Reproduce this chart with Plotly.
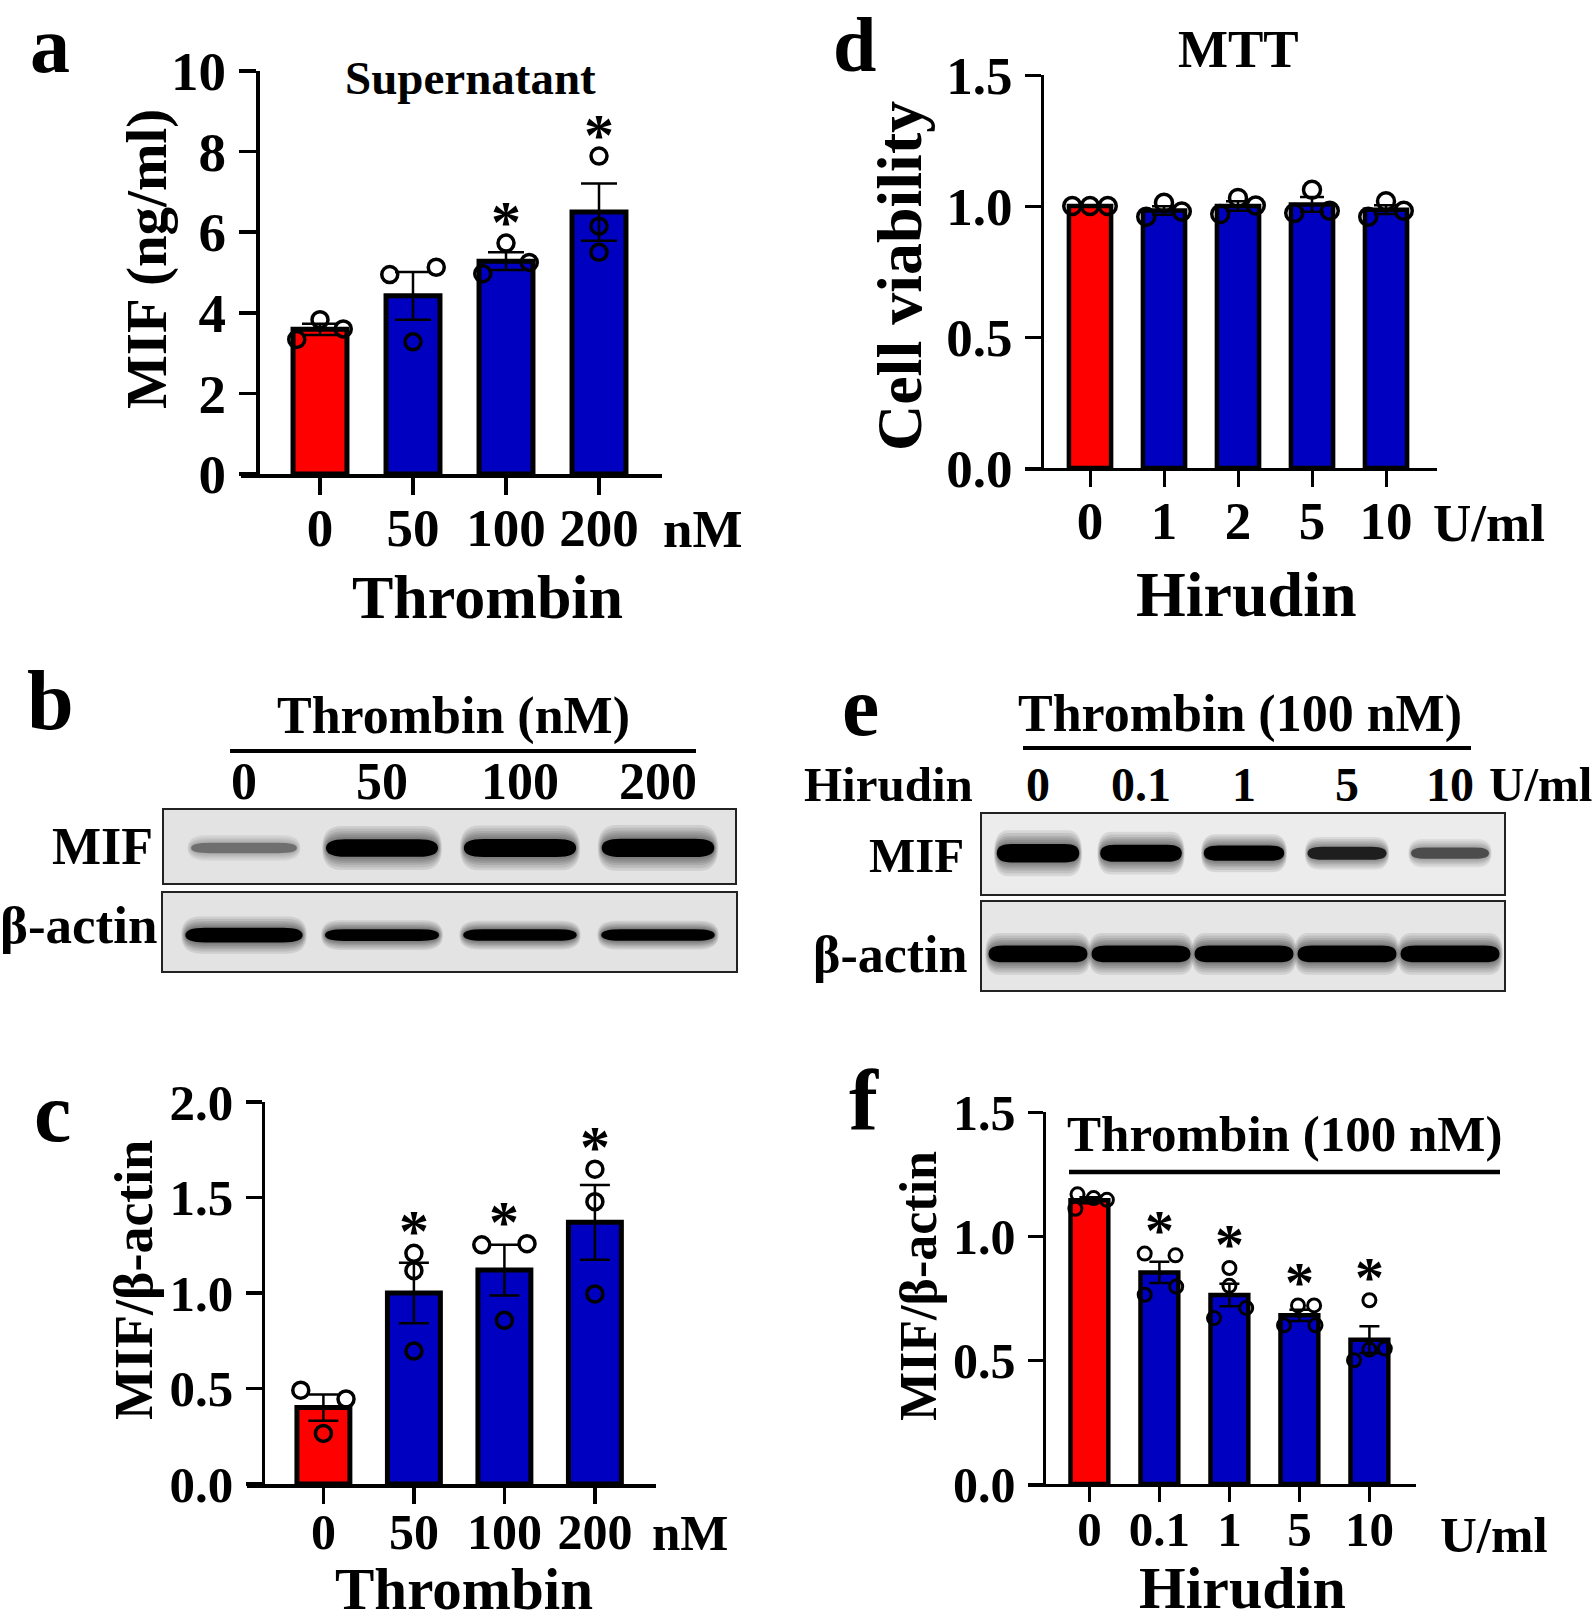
import plotly.graph_objects as go

W, H = 1593, 1622
FONT = "Liberation Serif, Times New Roman, serif"
RED = "#ff0000"
BLUE = "#0000c0"

# ---------------- data ----------------
# Panel a: MIF in supernatant (ng/ml) vs thrombin (nM)
a_cats = ["0", "50", "100", "200"]
a_means = [3.59, 4.42, 5.28, 6.50]
a_sem = [0.14, 0.59, 0.22, 0.71]
a_points = [[3.34, 3.83, 3.60], [4.95, 3.28, 5.13], [4.97, 5.73, 5.25], [7.89, 6.15, 5.50]]
a_sig = [False, False, True, True]

# Panel d: MTT cell viability vs hirudin (U/ml)
d_cats = ["0", "1", "2", "5", "10"]
d_means = [1.000, 0.983, 1.000, 1.006, 0.986]
d_sem = [0.002, 0.016, 0.018, 0.028, 0.017]
d_points = [[1.00, 1.00, 1.00], [0.959, 1.012, 0.979], [0.969, 1.031, 1.002],
            [0.973, 1.062, 0.982], [0.959, 1.018, 0.982]]
d_sig = [False, False, False, False, False]

# Panel c: MIF/beta-actin vs thrombin (nM)
c_cats = ["0", "50", "100", "200"]
c_means = [0.40, 1.00, 1.12, 1.37]
c_sem = [0.069, 0.158, 0.133, 0.196]
c_points = [[0.491, 0.265, 0.445], [1.208, 1.117, 0.696], [1.252, 0.857, 1.258], [1.648, 1.478, 0.995]]
c_sig = [False, True, True, True]

# Panel f: MIF/beta-actin vs hirudin (U/ml), thrombin 100 nM
f_cats = ["0", "0.1", "1", "5", "10"]
f_means = [1.144, 0.853, 0.762, 0.680, 0.582]
f_sem = [0.012, 0.043, 0.045, 0.023, 0.054]
f_points = [[1.168, 1.110, 1.153, 1.146], [0.929, 0.922, 0.763, 0.796], [0.871, 0.799, 0.669, 0.710],
            [0.720, 0.720, 0.640, 0.640], [0.741, 0.499, 0.542, 0.546]]
f_sig = [False, True, True, True, True]

# Western blots: relative band intensities per lane
b_lanes = ["0", "50", "100", "200"]
b_mif = [0.35, 0.90, 0.92, 0.95]
b_actin = [1.00, 0.72, 0.68, 0.68]
e_lanes = ["0", "0.1", "1", "5", "10"]
e_mif = [1.00, 0.90, 0.75, 0.58, 0.45]
e_actin = [1.00, 1.00, 1.00, 1.00, 1.00]

# ---------------- styles (horizontal scatter of dots) ----------------
a_jit = [[-0.25, 0, 0.25], [-0.25, 0, 0.25], [-0.25, 0, 0.25], [0, 0, 0]]
d_jit = [[-0.24, 0, 0.24]] * 5
c_jit = [[-0.25, 0, 0.25], [0, 0, 0], [-0.25, 0, 0.25], [0, 0, 0]]
f_jit = [[-0.17, -0.2, 0.06, 0.25], [-0.21, 0.23, -0.21, 0.24], [0, 0, -0.22, 0.24],
         [-0.02, 0.21, -0.22, 0.23], [0, -0.22, 0, 0.22]]


def px(x):
    return x / W


def py(y):
    return 1 - y / H


def bold(size):
    return dict(family=FONT, size=size, color="black", weight="bold")


fig = go.Figure()
annotations = []
shapes = []


def ax_names(k):
    s = "" if k == 1 else str(k)
    return "xaxis" + s, "yaxis" + s, "x" + s, "y" + s


def add_bar_panel(k, cats, means, sem, points, jitter, sig, g):
    xa, ya, xr, yr = ax_names(k)
    n = len(cats)
    xs = list(range(n))
    colors = [RED] + [BLUE] * (n - 1)
    fig.add_trace(go.Bar(
        x=xs, y=means, width=g["bw"],
        marker=dict(color=colors, line=dict(color="black", width=g["olw"])),
        error_y=dict(type="data", array=sem, visible=True, color="black",
                     thickness=g["ebt"], width=g["ebw"]),
        xaxis=xr, yaxis=yr, hoverinfo="skip", showlegend=False))
    dx, dy = [], []
    for i, (pts, jt) in enumerate(zip(points, jitter)):
        for v, j in zip(pts, jt):
            dx.append(i + j)
            dy.append(v)
    fig.add_trace(go.Scatter(
        x=dx, y=dy, mode="markers",
        marker=dict(symbol="circle-open", size=g["ms"], color="black",
                    line=dict(width=g["mlw"], color="black")),
        xaxis=xr, yaxis=yr, hoverinfo="skip", showlegend=False))
    step = g["step"]
    fig.update_layout(**{
        xa: dict(domain=[px(g["xl"]), px(g["xr"])],
                 range=[(g["xl"] - g["c0"]) / step, (g["xr"] - g["c0"]) / step],
                 anchor=yr, showline=True, linecolor="black", linewidth=g["alw"],
                 ticks="outside", ticklen=g["tl"], tickwidth=g["alw"], tickcolor="black",
                 tickvals=xs, ticktext=cats, tickfont=bold(g["fx"]),
                 ticklabelstandoff=g["xso"], automargin=False,
                 showgrid=False, zeroline=False, fixedrange=True),
        ya: dict(domain=[py(g["yb"]), py(g["yt"])], range=[0, g["ymax"]],
                 anchor="free", position=px(g["yx"]),
                 showline=True, linecolor="black", linewidth=g["alw"],
                 ticks="outside", ticklen=g["tl"], tickwidth=g["alw"], tickcolor="black",
                 tick0=0, dtick=g["dtick"], tickformat=g["fmt"], tickfont=bold(g["fy"]),
                 ticklabelstandoff=g["yso"], automargin=False,
                 showgrid=False, zeroline=False, fixedrange=True),
    })
    for i, s in enumerate(sig):
        if s:
            annotations.append(dict(x=i, y=max(points[i]), xref=xr, yref=yr, text="*",
                                    showarrow=False, yshift=g["sy"], font=bold(g["fs"]),
                                    xanchor="center", yanchor="middle"))


def pill(xc, yc, w, h, r):
    x0, x1 = xc - w / 2, xc + w / 2
    y0, y1 = yc - h / 2, yc + h / 2
    return (f"M {x0 + r},{y0} L {x1 - r},{y0} Q {x1},{y0} {x1},{yc} "
            f"Q {x1},{y1} {x1 - r},{y1} L {x0 + r},{y1} Q {x0},{y1} {x0},{yc} "
            f"Q {x0},{y0} {x0 + r},{y0} Z")


def add_blot(k, intens, box, c0, step, g):
    xa, ya, xr, yr = ax_names(k)
    x0b, y0b, x1b, y1b = box
    n = len(intens)
    fig.add_trace(go.Scatter(x=list(range(n)), y=[g["y"]] * n, mode="markers",
                             marker=dict(opacity=0, size=1), xaxis=xr, yaxis=yr,
                             hoverinfo="skip", showlegend=False))
    fig.update_layout(**{
        xa: dict(domain=[px(x0b), px(x1b)], range=[(x0b - c0) / step, (x1b - c0) / step],
                 anchor=yr, showline=True, mirror=True, linecolor="#222", linewidth=2,
                 showticklabels=False, ticks="", showgrid=False, zeroline=False,
                 fixedrange=True, automargin=False),
        ya: dict(domain=[py(y1b), py(y0b)], range=[0, 1], anchor=xr,
                 showline=True, mirror=True, linecolor="#222", linewidth=2,
                 showticklabels=False, ticks="", showgrid=False, zeroline=False,
                 fixedrange=True, automargin=False),
    })
    shapes.append(dict(type="rect", xref=xr + " domain", yref=yr + " domain", x0=0, x1=1, y0=0, y1=1,
                       fillcolor=g["bg"], line=dict(width=0), layer="below"))
    for i, v in enumerate(intens):
        gray = int(235 * (1 - min(1.0, 1.5 * v)))
        h = g["h"] * (0.3 + 0.7 * v)
        w = g["w"] * (0.9 + 0.1 * v)
        layers = [(1 + 0.07 * t, 1 + 1.5 * t, 0.09) for t in (1.0, 0.8, 0.6, 0.45, 0.3, 0.15)]
        layers.append((1.0, 1.0, 1.0))
        for sw, sh, op in layers:
            shapes.append(dict(type="path", xref=xr, yref=yr,
                               path=pill(i, g["y"], w * sw, h * sh, 0.14),
                               fillcolor=f"rgba({gray},{gray},{gray},{op})",
                               line=dict(width=0), layer="below"))


# ---------------- bar panels ----------------
add_bar_panel(1, a_cats, a_means, a_sem, a_points, a_jit, a_sig, dict(
    xl=241, xr=662, yx=257, c0=320, step=93, yt=71, yb=474, ymax=10, dtick=2, fmt="d",
    fx=53, fy=55, bw=0.58, olw=5, ebt=2.5, ebw=18, ms=16, mlw=3.5, alw=3.5, tl=17,
    xso=-12, yso=2, sy=21, fs=60))
add_bar_panel(2, d_cats, d_means, d_sem, d_points, d_jit, d_sig, dict(
    xl=1025, xr=1437, yx=1042, c0=1090, step=74, yt=75, yb=468, ymax=1.5, dtick=0.5, fmt=".1f",
    fx=53, fy=53, bw=0.57, olw=4.5, ebt=2.5, ebw=12, ms=17, mlw=3.5, alw=3, tl=16,
    xso=-12, yso=2, sy=21, fs=60))
add_bar_panel(7, c_cats, c_means, c_sem, c_points, c_jit, c_sig, dict(
    xl=247, xr=656, yx=262.5, c0=323.4, step=90.5, yt=1102, yb=1484, ymax=2, dtick=0.5, fmt=".1f",
    fx=50, fy=51, bw=0.585, olw=5, ebt=2.5, ebw=15, ms=16, mlw=3.5, alw=3.5, tl=16,
    xso=-15, yso=2, sy=22, fs=60))
add_bar_panel(8, f_cats, f_means, f_sem, f_points, f_jit, f_sig, dict(
    xl=1028, xr=1416, yx=1043.5, c0=1089.4, step=70, yt=1112, yb=1484, ymax=1.5, dtick=0.5, fmt=".1f",
    fx=49, fy=50, bw=0.54, olw=4.5, ebt=2.5, ebw=10, ms=13, mlw=3, alw=3, tl=15,
    xso=-15, yso=2, sy=23, fs=58))

# ---------------- blots ----------------
add_blot(3, b_mif, (164, 810, 735, 883), 244, 138, dict(y=0.48, h=0.26, w=0.82, bg="#e3e3e3"))
add_blot(4, b_actin, (163, 893, 736, 971), 244, 138, dict(y=0.46, h=0.19, w=0.85, bg="#e3e3e3"))
add_blot(5, e_mif, (982, 814, 1504, 894), 1038, 103, dict(y=0.51, h=0.23, w=0.80, bg="#ececec"))
add_blot(6, e_actin, (982, 902, 1504, 990), 1038, 103, dict(y=0.41, h=0.19, w=0.96, bg="#e6e6e6"))

# lane labels above blots
for i, t in enumerate(b_lanes):
    annotations.append(dict(x=i, y=py(782), xref="x3", yref="paper", text=t, showarrow=False,
                            font=bold(52), xanchor="center", yanchor="middle"))
for i, t in enumerate(e_lanes):
    annotations.append(dict(x=i, y=py(784), xref="x5", yref="paper", text=t, showarrow=False,
                            font=bold(48), xanchor="center", yanchor="middle"))


# ---------------- free text ----------------
def txt(x, y, s, size, xanchor="center", angle=0):
    annotations.append(dict(x=px(x), y=py(y), xref="paper", yref="paper", text=s, showarrow=False,
                            font=bold(size), xanchor=xanchor, yanchor="middle", textangle=angle))


txt(50, 45, "a", 80)
txt(470, 78, "Supernatant", 47)
txt(147, 259, "MIF (ng/ml)", 57, angle=-90)
txt(661, 529, "nM", 53, xanchor="left")
txt(487, 597, "Thrombin", 62)

txt(854, 44, "d", 78)
txt(1238, 49, "MTT", 53)
txt(900, 276, "Cell viability", 64, angle=-90)
txt(1431, 523, "U/ml", 53, xanchor="left")
txt(1246, 594, "Hirudin", 64)

txt(50, 700, "b", 84)
txt(453, 716, "Thrombin (nM)", 52)
txt(155, 846, "MIF", 52, xanchor="right")
txt(159, 925, "β-actin", 53, xanchor="right")

txt(860, 706, "e", 84)
txt(1240, 714, "Thrombin (100 nM)", 52)
txt(888, 784, "Hirudin", 49)
txt(1487, 784, "U/ml", 49, xanchor="left")
txt(966, 856, "MIF", 49, xanchor="right")
txt(970, 954, "β-actin", 52, xanchor="right")

txt(52, 1112, "c", 84)
txt(134, 1280, "MIF/β-actin", 54, angle=-90)
txt(650, 1533, "nM", 51, xanchor="left")
txt(464, 1589, "Thrombin", 59)

txt(864, 1100, "f", 87)
txt(1284, 1134, "Thrombin (100 nM)", 51)
txt(918, 1286, "MIF/β-actin", 52, angle=-90)
txt(1438, 1535, "U/ml", 51, xanchor="left")
txt(1242, 1588, "Hirudin", 60)

# bracket lines
for x0, x1, y, wdt in [(230, 696, 751, 4), (1023, 1471, 748, 4), (1069, 1500, 1172, 4.5)]:
    shapes.append(dict(type="line", xref="paper", yref="paper", x0=px(x0), x1=px(x1),
                       y0=py(y), y1=py(y), line=dict(color="black", width=wdt)))

fig.update_layout(width=W, height=H, autosize=False,
                  margin=dict(l=0, r=0, t=0, b=0, pad=0, autoexpand=False),
                  paper_bgcolor="white", plot_bgcolor="white", showlegend=False,
                  annotations=annotations, shapes=shapes, bargap=0)
fig.write_html("out.html", config={"displayModeBar": False, "staticPlot": True},
               post_script="document.body.style.margin='0px';")
